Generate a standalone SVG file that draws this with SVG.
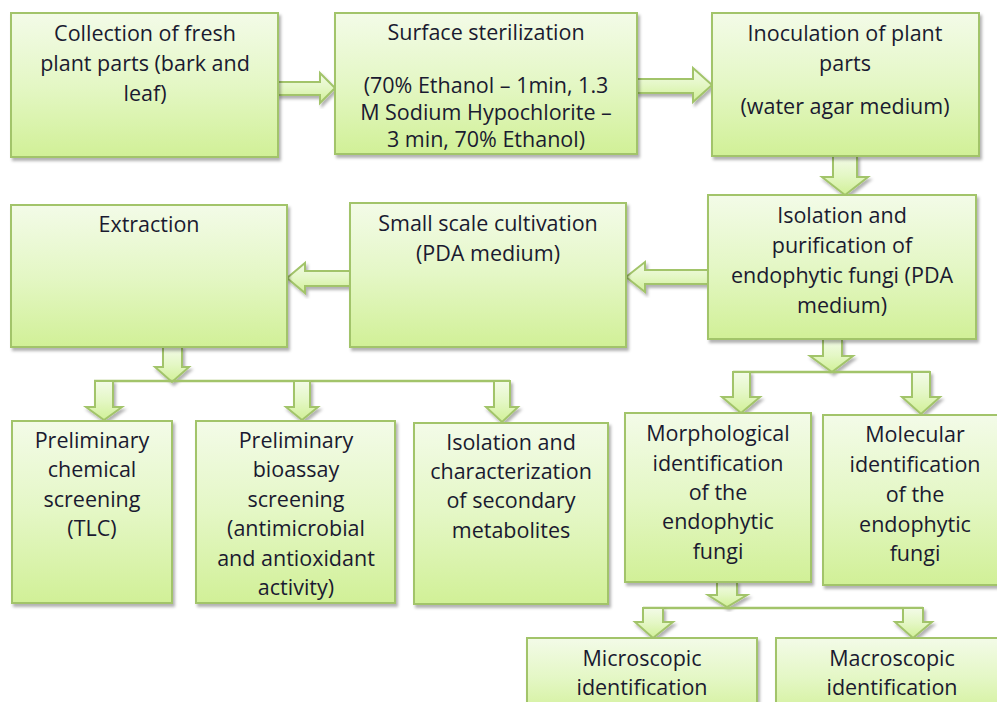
<svg xmlns="http://www.w3.org/2000/svg" width="997" height="702" viewBox="0 0 997 702">
<defs>
<linearGradient id="g" x1="0" y1="0" x2="0" y2="1">
<stop offset="0" stop-color="#f3fbe8"/>
<stop offset="0.5" stop-color="#e4f7c5"/>
<stop offset="1" stop-color="#d1f097"/>
</linearGradient>
<filter id="sh" x="-10%" y="-10%" width="130%" height="130%">
<feDropShadow dx="2" dy="3" stdDeviation="1.5" flood-color="#000" flood-opacity="0.3"/>
</filter>
</defs>
<style>
.box{fill:url(#g);stroke:#a2c46a;stroke-width:2;filter:url(#sh)}
.arr{fill:url(#g);stroke:#a2c46a;stroke-width:2;stroke-linejoin:miter;filter:url(#sh)}
.ln{fill:none;stroke:#a2c46a;stroke-width:2.5}
text{font-family:"Open Sans","Liberation Sans",sans-serif;font-size:21.5px;fill:#1a1a30;text-anchor:middle}
</style>
<rect width="997" height="702" fill="#fff"/>
<g id="connectors">
<polygon class="arr" points="278,82 320,82 320,73 335,88 320,103 320,95 278,95"/>
<polygon class="arr" points="637,79 693,79 693,68 712,85 693,102 693,93 637,93"/>
<polygon class="arr" points="833,156 857,156 857,177 868,177 845,195 822,177 833,177"/>
<polygon class="arr" points="708,270 645,270 645,262 626,277 645,292 645,284 708,284"/>
<polygon class="arr" points="350,271 305,271 305,263 287,278 305,293 305,286 350,286"/>
<polygon class="arr" points="163,347 182,347 182,367 189,367 172,382 155,367 163,367"/>
<polyline class="ln" points="94,381 510,381"/>
<polygon class="arr" points="95,381 113,381 113,407 122,407 104,420 86,407 95,407"/>
<polygon class="arr" points="294,381 310,381 310,407 318,407 302,420 286,407 294,407"/>
<polygon class="arr" points="494,381 510,381 510,407 518,407 502,422 486,407 494,407"/>
<polygon class="arr" points="823,339 842,339 842,356 853,356 832,372 810,356 823,356"/>
<polyline class="ln" points="733,372 930,372"/>
<polygon class="arr" points="733,372 750,372 750,397 760,397 741,413 722,397 733,397"/>
<polygon class="arr" points="912,372 930,372 930,397 940,397 921,414 902,397 912,397"/>
<polygon class="arr" points="717,582 737,582 737,595 747,595 727,607 708,595 717,595"/>
<polyline class="ln" points="643,608 923,608"/>
<polygon class="arr" points="643,608 663,608 663,622 673,622 653,638 635,622 643,622"/>
<polygon class="arr" points="903,608 923,608 923,622 932,622 913,638 895,622 903,622"/>
</g>
<g id="n1"><rect class="box" x="11" y="13" width="267" height="144"/>
<text x="145" y="41">Collection of fresh</text><text x="145" y="71">plant parts (bark and</text><text x="145" y="101">leaf)</text></g>
<g id="n2"><rect class="box" x="335" y="13" width="302" height="141"/>
<text x="486" y="40">Surface sterilization</text><text x="486" y="93">(70% Ethanol – 1min, 1.3</text><text x="486" y="120">M Sodium Hypochlorite –</text><text x="486" y="147">3 min, 70% Ethanol)</text></g>
<g id="n3"><rect class="box" x="712" y="13" width="267" height="143"/>
<text x="845" y="41">Inoculation of plant</text><text x="845" y="71">parts</text><text x="845" y="114">(water agar medium)</text></g>
<g id="n4"><rect class="box" x="708" y="195" width="268" height="144"/>
<text x="842" y="223">Isolation and</text><text x="842" y="253">purification of</text><text x="842" y="283">endophytic fungi (PDA</text><text x="842" y="313">medium)</text></g>
<g id="n5"><rect class="box" x="350" y="203" width="276" height="144"/>
<text x="488" y="231">Small scale cultivation</text><text x="488" y="261">(PDA medium)</text></g>
<g id="n6"><rect class="box" x="11" y="205" width="276" height="142"/>
<text x="149" y="232">Extraction</text></g>
<g id="n7"><rect class="box" x="12" y="421" width="160" height="182"/>
<text x="92" y="448">Preliminary</text><text x="92" y="477">chemical</text><text x="92" y="507">screening</text><text x="92" y="536">(TLC)</text></g>
<g id="n8"><rect class="box" x="196" y="421" width="199" height="182"/>
<text x="296" y="448">Preliminary</text><text x="296" y="477">bioassay</text><text x="296" y="507">screening</text><text x="296" y="536">(antimicrobial</text><text x="296" y="566">and antioxidant</text><text x="296" y="595">activity)</text></g>
<g id="n9"><rect class="box" x="414" y="423" width="194" height="181"/>
<text x="511" y="450">Isolation and</text><text x="511" y="479">characterization</text><text x="511" y="508">of secondary</text><text x="511" y="538">metabolites</text></g>
<g id="n10"><rect class="box" x="625" y="413" width="186" height="169"/>
<text x="718" y="441">Morphological</text><text x="718" y="471">identification</text><text x="718" y="500">of the</text><text x="718" y="529">endophytic</text><text x="718" y="559">fungi</text></g>
<g id="n11"><rect class="box" x="823" y="415" width="184" height="170"/>
<text x="915" y="442">Molecular</text><text x="915" y="472">identification</text><text x="915" y="502">of the</text><text x="915" y="532">endophytic</text><text x="915" y="561">fungi</text></g>
<g id="n12"><rect class="box" x="527" y="638" width="230" height="80"/>
<text x="642" y="666">Microscopic</text><text x="642" y="695">identification</text></g>
<g id="n13"><rect class="box" x="776" y="638" width="232" height="80"/>
<text x="892" y="666">Macroscopic</text><text x="892" y="695">identification</text></g>
</svg>
